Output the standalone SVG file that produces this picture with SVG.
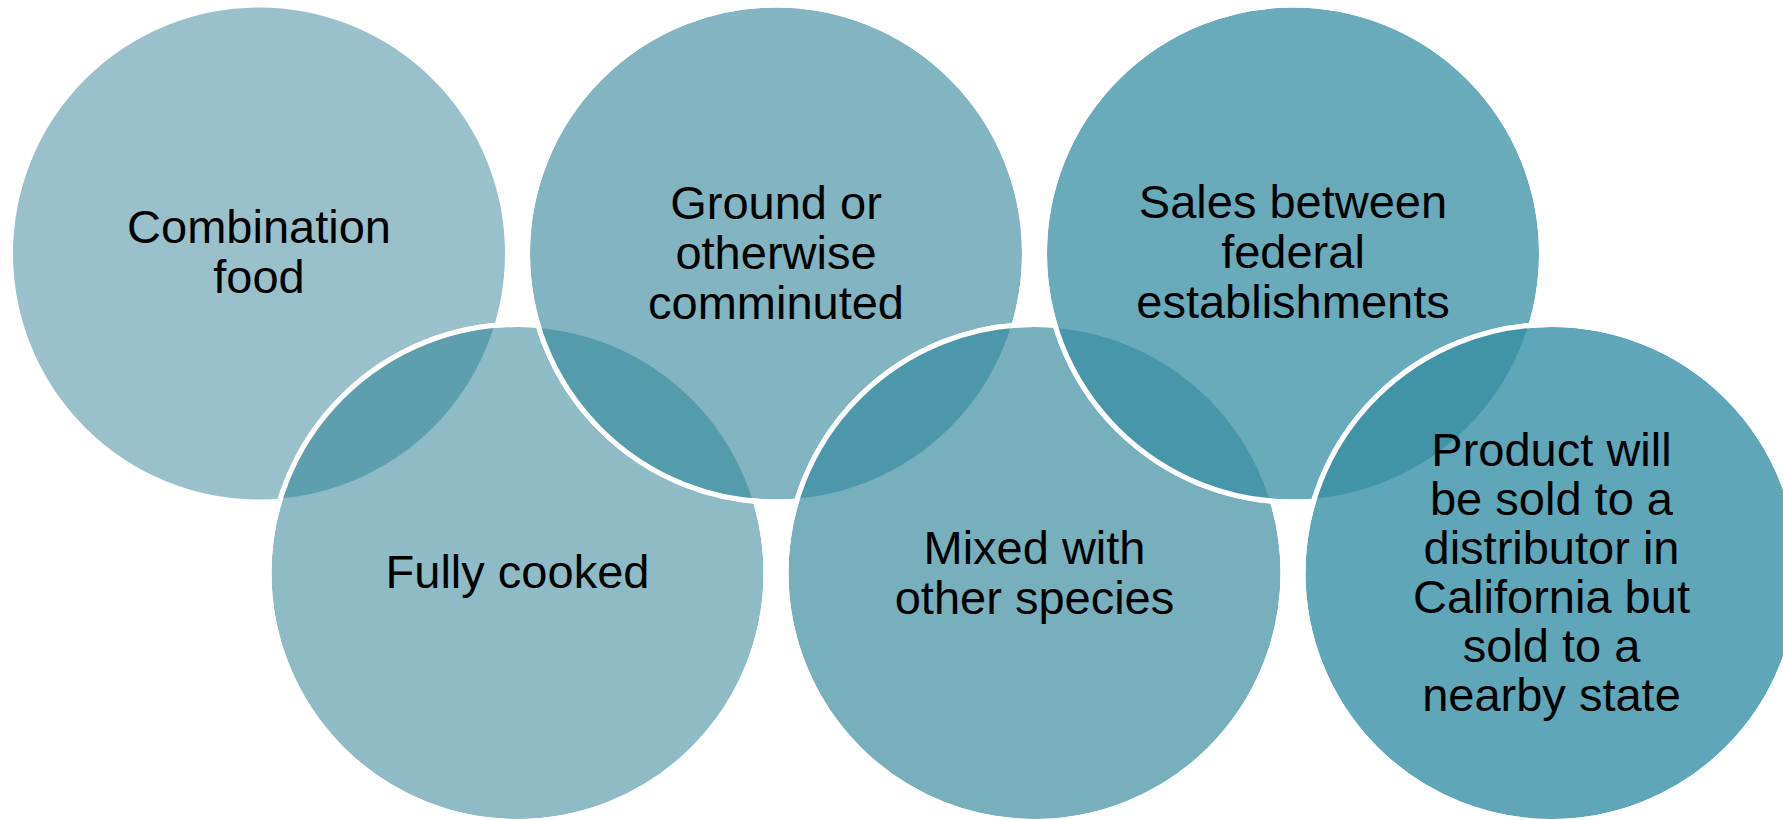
<svg xmlns="http://www.w3.org/2000/svg" width="1783" height="820" viewBox="0 0 1783 820">
<style>
.ring{stroke:#ffffff;stroke-width:5}
.edge{fill:none;stroke:#ffffff;stroke-width:5}
text{font-family:"Liberation Sans",Arial,Helvetica,sans-serif;font-size:47px;fill:#000000;text-anchor:middle}
</style>
<defs>
<clipPath id="k4"><circle cx="517.5" cy="573" r="248.5"/></clipPath>
<clipPath id="k2"><circle cx="776" cy="253.5" r="248.5"/></clipPath>
<clipPath id="k5"><circle cx="1034.5" cy="573" r="248.5"/></clipPath>
<clipPath id="k3"><circle cx="1293" cy="253.5" r="248.5"/></clipPath>
<clipPath id="k6"><circle cx="1551.5" cy="573" r="248.5"/></clipPath>
</defs>
<rect width="1783" height="820" fill="#ffffff"/>
<g id="connectors"></g>
<g id="node1">
<circle class="ring" cx="259" cy="253.5" r="248.5" fill="#9ac1cb"/>
<text x="259" y="243">Combination</text>
<text x="259" y="293">food</text>
</g>
<g id="node4">
<circle class="ring" cx="517.5" cy="573" r="248.5" fill="#8ebbc6"/>
<circle cx="259" cy="253.5" r="246" fill="#5d9fae" clip-path="url(#k4)"/>
<circle class="edge" cx="517.5" cy="573" r="248.5"/>
<text x="517.5" y="588">Fully cooked</text>
</g>
<g id="node2">
<circle class="ring" cx="776" cy="253.5" r="248.5" fill="#83b4c1"/>
<circle cx="517.5" cy="573" r="246" fill="#549cac" clip-path="url(#k2)"/>
<circle class="edge" cx="776" cy="253.5" r="248.5"/>
<text x="776" y="219">Ground or</text>
<text x="776" y="269">otherwise</text>
<text x="776" y="319">comminuted</text>
</g>
<g id="node5">
<circle class="ring" cx="1034.5" cy="573" r="248.5" fill="#78afbd"/>
<circle cx="776" cy="253.5" r="246" fill="#4c97aa" clip-path="url(#k5)"/>
<circle class="edge" cx="1034.5" cy="573" r="248.5"/>
<text x="1034.5" y="564">Mixed with</text>
<text x="1034.5" y="614">other species</text>
</g>
<g id="node3">
<circle class="ring" cx="1293" cy="253.5" r="248.5" fill="#69aabb"/>
<circle cx="1034.5" cy="573" r="246" fill="#4896a9" clip-path="url(#k3)"/>
<circle class="edge" cx="1293" cy="253.5" r="248.5"/>
<text x="1293" y="218">Sales between</text>
<text x="1293" y="268">federal</text>
<text x="1293" y="318">establishments</text>
</g>
<g id="node6">
<circle class="ring" cx="1551.5" cy="573" r="248.5" fill="#5ea6b8"/>
<circle cx="1293" cy="253.5" r="246" fill="#4194a8" clip-path="url(#k6)"/>
<circle class="edge" cx="1551.5" cy="573" r="248.5"/>
<text x="1551.5" y="465.5">Product will</text>
<text x="1551.5" y="514.5">be sold to a</text>
<text x="1551.5" y="563.5">distributor in</text>
<text x="1551.5" y="612.5">California but</text>
<text x="1551.5" y="661.5">sold to a</text>
<text x="1551.5" y="710.5">nearby state</text>
</g>
</svg>
